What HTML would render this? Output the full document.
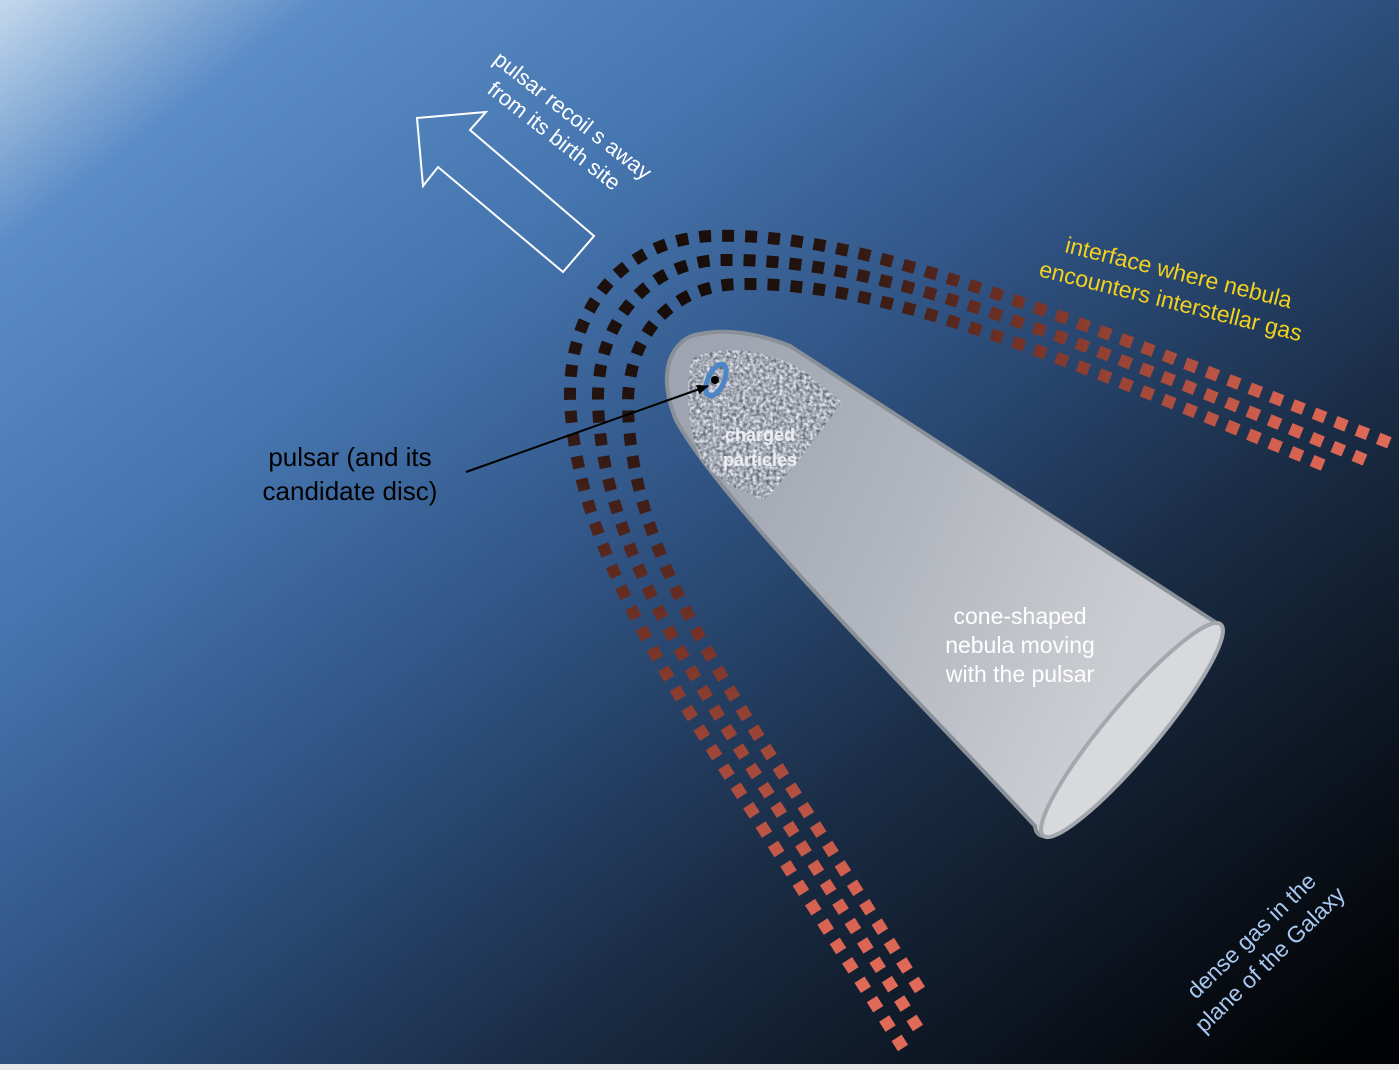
<!DOCTYPE html>
<html><head><meta charset="utf-8"><style>
html,body{margin:0;padding:0;width:1399px;height:1070px;overflow:hidden;background:#000}
svg{display:block}
text{font-family:"Liberation Sans",sans-serif}
</style></head><body>
<svg width="1399" height="1070" viewBox="0 0 1399 1070" xmlns="http://www.w3.org/2000/svg">
<defs>
<linearGradient id="bg" x1="0" y1="0" x2="1000" y2="1300" gradientUnits="userSpaceOnUse">
<stop offset="0" stop-color="#c4d8ec"/>
<stop offset="0.12" stop-color="#5b8cc6"/>
<stop offset="0.3" stop-color="#4676b0"/>
<stop offset="0.5" stop-color="#2f5282"/>
<stop offset="0.7" stop-color="#1a2d46"/>
<stop offset="0.85" stop-color="#0e1724"/>
<stop offset="1" stop-color="#020304"/>
</linearGradient>
<radialGradient id="dots" cx="680" cy="290" r="720" gradientUnits="userSpaceOnUse">
<stop offset="0" stop-color="#140c08"/>
<stop offset="0.2" stop-color="#241410"/>
<stop offset="0.5" stop-color="#7a3528"/>
<stop offset="0.85" stop-color="#d4604f"/>
<stop offset="1" stop-color="#e06a58"/>
</radialGradient>
<linearGradient id="cone" x1="700" y1="400" x2="1150" y2="600" gradientUnits="userSpaceOnUse">
<stop offset="0" stop-color="#9ea5b0"/>
<stop offset="0.5" stop-color="#b2b6be"/>
<stop offset="1" stop-color="#cbcdd2"/>
</linearGradient>
<filter id="noise" x="0" y="0" width="100%" height="100%" color-interpolation-filters="sRGB">
<feTurbulence type="fractalNoise" baseFrequency="0.3" numOctaves="2" seed="3"/>
<feColorMatrix type="matrix" values="0.9 0 0 0 0.2  0.9 0 0 0 0.22  0.9 0 0 0 0.26  0 0 0 0 1"/>
</filter>
<clipPath id="grain"><path d="M692,358 Q740,338 800,368 L842,402 Q805,455 765,500 Q725,488 702,462 Q680,410 692,358Z"/></clipPath>
<marker id="ah" markerWidth="12" markerHeight="10" refX="11" refY="5" orient="auto" markerUnits="userSpaceOnUse">
<path d="M0,0 L12,5 L0,10Z" fill="#000"/></marker>
</defs>
<rect width="1399" height="1070" fill="url(#bg)"/>
<rect y="1064" width="1399" height="6" fill="#e8e8e8"/>

<g fill="none" stroke="url(#dots)" stroke-width="12" stroke-dasharray="12 11">
<path d="M903,1048 L745,800 C640,640 575,520 570,400 C568,300 630,240 710,236 C850,232 1000,290 1395,445"/>
<path d="M918,1028 L770,796 C665,636 600,520 598,400 C597,320 650,262 720,260 C860,258 1010,310 1365,460"/>
<path d="M920,990 L795,793 C690,633 628,520 628,400 C630,330 675,285 740,284 C870,283 1000,330 1330,468"/>
</g>

<path d="M417,118 L486,112 L470,130 L594,236 L563,272 L438,167 L423,186 Z" fill="none" stroke="#fff" stroke-width="2"/>

<path d="M700,334 Q740,326 790,346 L1215,622 Q1225,630 1218,648 L1045,836 Q1036,836 1035,826 C880,660 720,500 676,420 Q660,380 672,355 Q682,336 700,334Z" fill="url(#cone)" stroke="#8a9098" stroke-width="4"/>
<ellipse cx="1132" cy="730" rx="138" ry="26" transform="rotate(-50 1132 730)" fill="#d8d9dc" stroke="#a4a8ae" stroke-width="4"/>
<rect x="680" y="335" width="170" height="170" filter="url(#noise)" clip-path="url(#grain)"/>
<ellipse cx="716" cy="380" rx="8" ry="17" transform="rotate(25 716 380)" fill="none" stroke="#4a86c8" stroke-width="5"/>
<circle cx="715" cy="380" r="4" fill="#000"/>
<line x1="466" y1="472" x2="708" y2="386" stroke="#000" stroke-width="2" marker-end="url(#ah)"/>

<text x="760" y="441" font-size="18" font-weight="bold" fill="#eceef2" text-anchor="middle">charged</text>
<text x="760" y="466" font-size="18" font-weight="bold" fill="#eceef2" text-anchor="middle">particles</text>
<text x="1020" y="624" font-size="23" fill="#fff" text-anchor="middle">cone-shaped</text>
<text x="1020" y="653" font-size="23" fill="#fff" text-anchor="middle">nebula moving</text>
<text x="1020" y="682" font-size="23" fill="#fff" text-anchor="middle">with the pulsar</text>
<text x="350" y="466" font-size="26" fill="#000" text-anchor="middle">pulsar (and its</text>
<text x="350" y="500" font-size="26" fill="#000" text-anchor="middle">candidate disc)</text>

<text transform="translate(492,62) rotate(38)" font-size="22" fill="#fff">pulsar recoil s away</text>
<text transform="translate(486,92) rotate(38)" font-size="22" fill="#fff">from its birth site</text>
<text transform="translate(1064,252) rotate(14)" font-size="23" fill="#f2d21e">interface where nebula</text>
<text transform="translate(1038,276) rotate(14)" font-size="23" fill="#f2d21e">encounters interstellar gas</text>
<text transform="translate(1196,1000) rotate(-44)" font-size="23" fill="#a8c8f0">dense gas in the</text>
<text transform="translate(1204,1034) rotate(-44)" font-size="23" fill="#a8c8f0">plane of the Galaxy</text>
</svg>
</body></html>
